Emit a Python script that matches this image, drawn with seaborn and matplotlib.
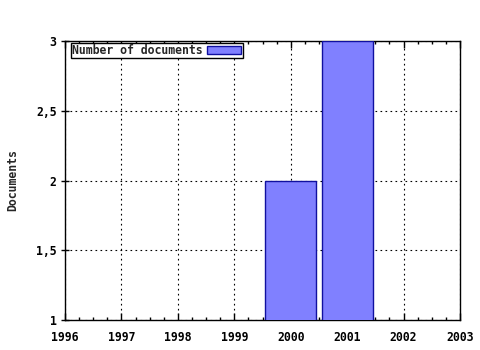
import matplotlib
matplotlib.use("Agg")
import matplotlib.pyplot as plt
import matplotlib.ticker as mticker
from matplotlib.patches import Patch
import seaborn as sns
import pandas as pd

years = [2000, 2001]
documents = [2, 3]
x_ticks = [1996, 1997, 1998, 1999, 2000, 2001, 2002, 2003]
y_ticks = [1, 1.5, 2, 2.5, 3]
y_tick_labels = ["1", "1,5", "2", "2,5", "3"]
series_label = "Number of documents"
y_label = "Documents"

sns.set_style("white")
plt.rcParams["font.family"] = ["DejaVu Sans Mono"]
plt.rcParams["font.weight"] = "bold"

df = pd.DataFrame({"year": years, "docs": documents})

fig = plt.figure(figsize=(4.8, 3.5), dpi=100)
ax = fig.add_axes([65 / 480, 1 - 320 / 350, 395 / 480, 279 / 350])

sns.barplot(data=df, x="year", y="docs", native_scale=True, width=0.9,
            color="#8080ff", saturation=1, edgecolor="#1010a0", linewidth=1,
            ax=ax, zorder=3)
for p in ax.patches:
    p.set_facecolor("#8080ff")

ax.set_xlim(1996, 2003)
ax.set_ylim(1, 3)
ax.set_xticks(x_ticks)
ax.set_xticklabels([str(v) for v in x_ticks], fontsize=8.3, fontweight="bold")
ax.set_yticks(y_ticks)
ax.set_yticklabels(y_tick_labels, fontsize=8.3, fontweight="bold")
ax.xaxis.set_minor_locator(mticker.MultipleLocator(0.25))
ax.set_xlabel("")
ax.set_ylabel(y_label, fontsize=8.3, fontweight="bold", labelpad=12)

ax.grid(True, which="major", color="black", linestyle=(0, (1.5, 3)), linewidth=0.8, zorder=1)
ax.set_axisbelow(True)
for s in ax.spines.values():
    s.set_color("black")
    s.set_linewidth(1)

ax.tick_params(axis="x", which="major", direction="in", length=5, top=True, bottom=True, width=1, colors="black", pad=8)
ax.tick_params(axis="x", which="minor", direction="in", length=2.5, top=True, bottom=True, width=1, colors="black")
ax.tick_params(axis="y", which="major", direction="inout", length=6, left=True, right=False, width=1, colors="black", pad=3)

handle = Patch(facecolor="#8080ff", edgecolor="#1010a0", linewidth=1)
leg = ax.legend([handle], [series_label], loc="upper left",
                bbox_to_anchor=(6 / 395, 1 - 2 / 279), borderaxespad=0,
                frameon=True, fancybox=False, framealpha=1, edgecolor="black",
                prop={"size": 8.3, "weight": "bold", "family": "DejaVu Sans Mono"},
                markerfirst=False, handlelength=3.0, handleheight=0.6,
                borderpad=0.1, handletextpad=0.35)
leg.get_frame().set_linewidth(1)

fig.savefig("out.png", dpi=100)
